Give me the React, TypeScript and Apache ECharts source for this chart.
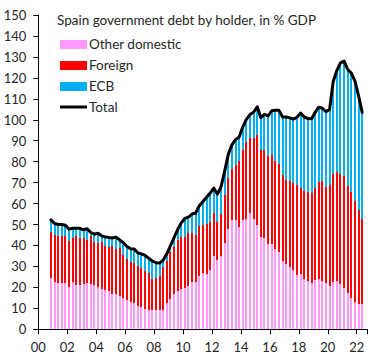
import React, { useEffect, useRef } from "react";
import * as echarts from "echarts";

// Quarterly axis: 2000Q1 .. 2022Q3
const years = ["00", "01", "02", "03", "04", "05", "06", "07", "08", "09", "10", "11", "12", "13", "14", "15", "16", "17", "18", "19", "20", "21", "22"];
const quarters = ["Q1", "Q2", "Q3", "Q4"];
const categoryCount = 91;
// series start in 2000Q4
const leadingEmpty = 3;

// % of GDP, 2000Q4 .. 2022Q2
const otherDomestic = [
  24.7, 22.8, 22.3, 22.3, 22.0, 20.4, 22.4, 21.3, 21.3, 21.5, 22.1, 21.5, 21.3, 20.2, 19.4, 18.8, 18.1, 16.8, 16.8, 15.9, 14.9, 14.0,
  13.0, 12.4, 11.3, 10.8, 9.7, 9.2, 9.2, 9.2, 9.2, 9.2, 12.5, 14.4, 16.8, 18.3, 19.4, 19.9, 20.7, 22.6, 22.6, 25.6,
  26.7, 26.2, 28.3, 35.0, 33.1, 35.0, 41.0, 47.9, 52.2, 52.2, 48.7, 52.2, 52.7, 55.4, 52.7, 49.8, 43.9, 43.6, 40.8, 40.6,
  38.4, 36.7, 32.8, 31.0, 29.7, 28.3, 25.9, 26.6, 24.0, 22.9, 22.2, 23.6, 23.8, 23.0, 22.0, 20.7, 22.8, 23.1, 21.5, 19.6,
  17.5, 15.0, 13.2, 12.1, 12.1,
];
const foreign = [
  21.9, 22.3, 22.0, 22.3, 22.3, 21.9, 21.0, 23.0, 22.5, 22.1, 20.6, 22.8, 20.6, 20.8, 22.1, 21.1, 21.4, 23.1, 21.5, 22.7, 20.6, 19.6,
  19.3, 19.1, 19.1, 18.6, 18.1, 17.5, 14.8, 15.5, 16.4, 20.4, 20.1, 22.7, 22.4, 24.4, 24.5, 24.0, 25.3, 23.3, 22.5, 23.8,
  23.3, 24.1, 23.1, 20.5, 18.3, 20.2, 23.0, 24.4, 24.3, 26.3, 31.8, 33.5, 36.9, 36.1, 38.8, 43.0, 41.8, 42.1, 42.1, 42.6,
  41.8, 42.0, 40.7, 40.3, 41.3, 41.7, 43.1, 40.9, 42.0, 42.6, 42.8, 43.9, 46.5, 47.8, 45.8, 48.1, 51.3, 52.1, 52.6, 53.8,
  50.9, 50.7, 48.2, 44.8, 40.4,
];
const ecb = [
  5.6, 5.4, 5.7, 5.4, 5.4, 5.5, 4.8, 3.9, 4.4, 3.9, 5.3, 1.9, 3.5, 4.8, 3.1, 4.2, 4.3, 3.7, 5.7, 4.0, 5.8, 5.9,
  6.1, 6.8, 6.1, 6.6, 7.5, 7.2, 8.6, 7.1, 6.0, 3.4, 3.4, 2.7, 4.5, 4.9, 6.9, 9.0, 7.5, 9.1, 10.4, 9.6,
  11.0, 12.7, 13.6, 11.9, 13.1, 12.8, 11.5, 11.2, 11.5, 12.0, 11.3, 10.8, 10.6, 11.0, 12.1, 13.4, 15.3, 16.9, 18.9, 21.1,
  24.3, 25.8, 27.8, 30.0, 29.9, 30.3, 32.2, 35.7, 35.3, 35.1, 35.5, 36.0, 35.7, 34.7, 36.0, 36.2, 44.2, 48.3, 53.1, 54.6,
  55.6, 56.6, 57.1, 54.6, 51.0,
];
const total = [
  52.2, 50.5, 50.0, 50.0, 49.7, 47.8, 48.2, 48.2, 48.2, 47.5, 48.0, 46.2, 45.4, 45.8, 44.6, 44.1, 43.8, 43.6, 44.0, 42.6, 41.3, 39.5,
  38.4, 38.3, 36.5, 36.0, 35.3, 33.9, 32.6, 31.8, 31.6, 33.0, 36.0, 39.8, 43.7, 47.6, 50.8, 52.9, 53.5, 55.0, 55.5, 59.0,
  61.0, 63.0, 65.0, 67.4, 64.5, 68.0, 75.5, 83.5, 88.0, 90.5, 91.8, 96.5, 100.2, 102.5, 103.6, 106.2, 101.0, 102.6, 101.8, 104.3,
  104.5, 104.5, 101.3, 101.3, 100.9, 100.3, 101.2, 103.2, 101.3, 100.6, 100.5, 103.5, 106.0, 105.5, 103.8, 105.0, 118.3, 123.5, 127.2, 128.0,
  124.0, 122.3, 118.5, 111.5, 103.5,
];

const seriesNames = ["Other domestic", "Foreign", "ECB", "Total"];
const titleText = "Spain government debt by holder, in % GDP";
const colors = ["#FF99FF", "#FF0000", "#00B0F0", "#000000"];

const categories = years.flatMap((y) => quarters.map((q) => y + q)).slice(0, categoryCount);

function pad(values: number[]): (number | null)[] {
  const out: (number | null)[] = new Array(categoryCount).fill(null);
  values.forEach((v, i) => {
    out[leadingEmpty + i] = v;
  });
  return out;
}

const FONT = "Lato, 'Liberation Sans', Arial, sans-serif";
const TEXT = "#262626";

// keep the narrow bars pixel-sharp so the white gaps between them stay visible
const crispBars = colors
  .slice(0, 3)
  .map((c) => `.debt-chart path[fill="${c}" i]`)
  .join(", ") + " { shape-rendering: crispEdges; }";

export default function App() {
  const ref = useRef<HTMLDivElement>(null);

  useEffect(() => {
    if (!ref.current) return;
    const chart = echarts.init(ref.current, null, { renderer: "svg" });
    const barBase = { type: "bar" as const, stack: "debt", barWidth: 2, emphasis: { disabled: true } };
    chart.setOption({
      animation: false,
      backgroundColor: "#ffffff",
      textStyle: { fontFamily: FONT },
      title: {
        text: titleText,
        left: 57,
        top: 13,
        padding: 0,
        textStyle: { fontFamily: FONT, fontSize: 13.5, fontWeight: "normal", color: TEXT },
      },
      legend: {
        orient: "vertical",
        left: 60,
        top: 37,
        padding: 0,
        itemWidth: 27,
        itemHeight: 9,
        itemGap: 7,
        selectedMode: false,
        textStyle: { fontFamily: FONT, fontSize: 13.5, color: TEXT, lineHeight: 14, padding: [0, 0, 0, -3] },
        data: [
          { name: seriesNames[0], icon: "rect" },
          { name: seriesNames[1], icon: "rect" },
          { name: seriesNames[2], icon: "rect" },
          { name: seriesNames[3], icon: "path://M0,0H27V3H0Z" },
        ],
      },
      grid: { left: 38.3, right: 16.4, top: 15, bottom: 29.7 },
      xAxis: {
        type: "category",
        data: categories,
        boundaryGap: true,
        axisLine: { show: true, lineStyle: { color: "#000", width: 1 } },
        axisTick: { show: true, interval: 7, length: 5, lineStyle: { color: "#000" } },
        axisLabel: {
          interval: 7,
          margin: 11,
          fontFamily: FONT,
          fontSize: 13,
          color: TEXT,
          padding: [0, 3.6, 0, 0],
          formatter: (v: string) => v.slice(0, 2),
        },
        splitLine: { show: false },
      },
      yAxis: {
        type: "value",
        min: 0,
        max: 150,
        interval: 10,
        axisLine: { show: true, lineStyle: { color: "#000", width: 1 } },
        axisTick: { show: true, length: 5, lineStyle: { color: "#000" } },
        axisLabel: { margin: 12, fontFamily: FONT, fontSize: 13, color: TEXT },
        splitLine: { show: false },
      },
      series: [
        { ...barBase, name: seriesNames[0], data: pad(otherDomestic), itemStyle: { color: colors[0] } },
        { ...barBase, name: seriesNames[1], data: pad(foreign), itemStyle: { color: colors[1] } },
        { ...barBase, name: seriesNames[2], data: pad(ecb), itemStyle: { color: colors[2] } },
        {
          type: "line",
          name: seriesNames[3],
          data: pad(total),
          symbol: "none",
          showSymbol: false,
          z: 5,
          itemStyle: { color: colors[3] },
          lineStyle: { color: colors[3], width: 3, join: "round", cap: "round" },
          emphasis: { disabled: true },
        },
      ],
    });
    return () => chart.dispose();
  }, []);

  return (
    <>
      <style>{crispBars}</style>
      <div
        ref={ref}
        className="debt-chart"
        style={{ position: "fixed", left: 0, top: 0, width: 384, height: 359, background: "#fff" }}
      />
    </>
  );
}
